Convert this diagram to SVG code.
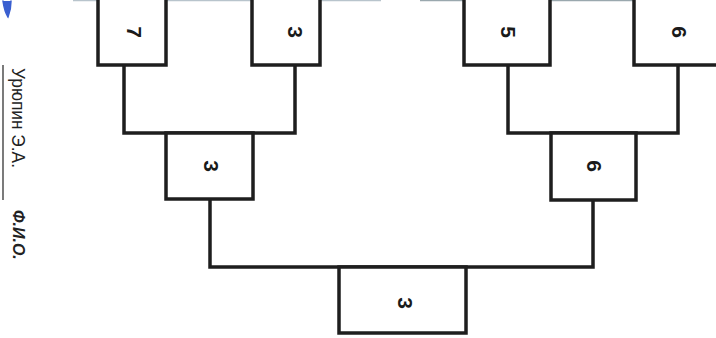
<svg xmlns="http://www.w3.org/2000/svg" width="716" height="338" viewBox="0 0 716 338">
<style>
.box{fill:#fff;stroke:#1e1e1e;stroke-width:3.5}
.conn{fill:none;stroke:#1e1e1e;stroke-width:3.5;stroke-linejoin:miter}
.num{font-family:"Liberation Sans",Arial,sans-serif;font-weight:bold;font-size:21px;fill:#1a1a1a;text-anchor:middle;dominant-baseline:central}
.cap{font-family:"Liberation Sans",Arial,sans-serif;fill:#222;text-anchor:start;dominant-baseline:central}
</style>
<rect width="716" height="338" fill="#fff"/>
<line x1="73" y1="0.5" x2="381" y2="0.5" stroke="#b8c4cc" stroke-width="1.5"/>
<line x1="420" y1="0.5" x2="716" y2="0.5" stroke="#9aa8ae" stroke-width="1.5"/>
<path d="M3,1 C4,8 6,14 8,17 C10,12 11,6 11,1" fill="#3a5fd0" stroke="#3a5fd0" stroke-width="1.5" stroke-linecap="round"/>
<g id="caption">
<line x1="3" y1="65" x2="3" y2="200" stroke="#333" stroke-width="1.3"/>
<text class="cap" font-size="18" textLength="100" lengthAdjust="spacingAndGlyphs" transform="translate(18,68) rotate(90)">Урюпин Э.А.</text>
<text class="cap" font-size="16" font-weight="bold" font-style="italic" transform="translate(18,210) rotate(90)">Ф.И.О.</text>
</g>
<g id="connectors">
<path class="conn" d="M124,65 V133 H295 V65"/>
<path class="conn" d="M508,65 V133 H678 V65"/>
<path class="conn" d="M210,199 V267 H593 V200"/>
</g>
<g id="n1"><rect class="box" x="98" y="-10" width="68" height="75"/><text class="num" transform="translate(134,32) rotate(90)">7</text></g>
<g id="n2"><rect class="box" x="252" y="-10" width="68" height="75"/><text class="num" transform="translate(295,32) rotate(90)">3</text></g>
<g id="n3"><rect class="box" x="464" y="-10" width="86" height="75"/><text class="num" transform="translate(508,32) rotate(90)">5</text></g>
<g id="n4"><rect class="box" x="634" y="-10" width="100" height="75"/><text class="num" transform="translate(679,32) rotate(90)">6</text></g>
<g id="n5"><rect class="box" x="166" y="133" width="87" height="66"/><text class="num" transform="translate(211,166) rotate(90)">3</text></g>
<g id="n6"><rect class="box" x="551" y="133" width="85" height="67"/><text class="num" transform="translate(594,166) rotate(90)">6</text></g>
<g id="n7"><rect class="box" x="339" y="267" width="127" height="66"/><text class="num" transform="translate(405,303) rotate(90)">3</text></g>
</svg>
